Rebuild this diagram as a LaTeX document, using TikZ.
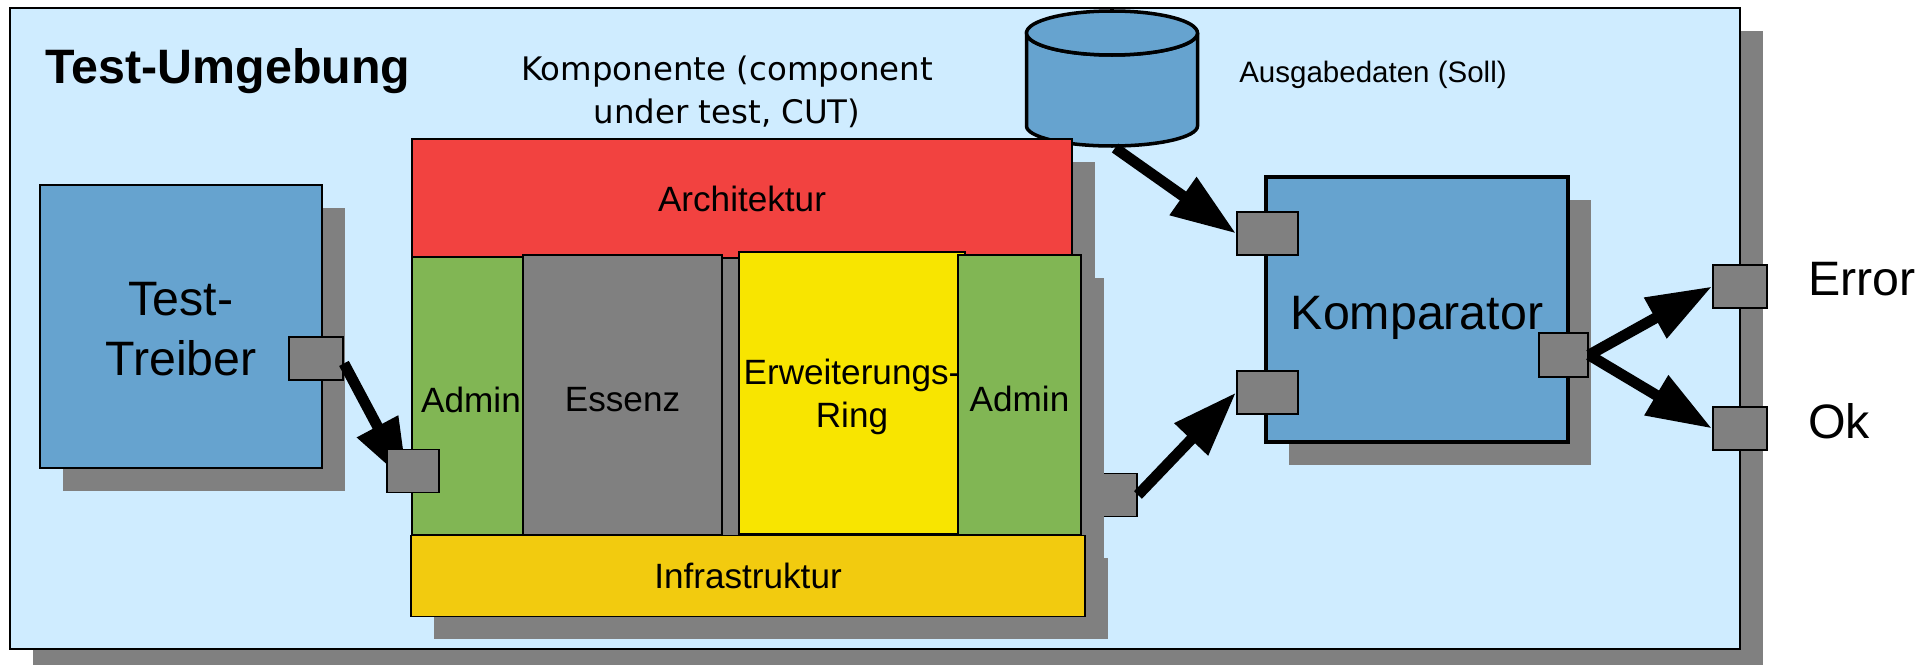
\documentclass[tikz,border=0pt]{standalone}
\usepackage{fontspec}
\setmainfont{Liberation Sans}
\newfontfamily\cutfont{DejaVu Sans}
\usetikzlibrary{arrows.meta,shadows}

\definecolor{envblue}{RGB}{207,236,255}
\definecolor{boxblue}{RGB}{102,163,207}
\definecolor{archred}{RGB}{242,66,64}
\definecolor{admingreen}{RGB}{129,182,84}
\definecolor{ringyellow}{RGB}{248,229,0}
\definecolor{infraorange}{RGB}{242,203,15}
\definecolor{portgray}{RGB}{128,128,128}

\newcommand{\pxu}{0.56906pt}
\newcommand{\lowstrut}{\rule{0pt}{19pt}}

\tikzset{
  layer/.style={draw=black,line width=1.1pt,inner sep=0pt,align=center,font=\fontsize{20}{24}\selectfont},
  boxshadow/.style={drop shadow={shadow xshift=13pt,shadow yshift=-13pt,opacity=1,fill=portgray}},
  port/.style={draw=black,line width=1.1pt,fill=portgray,inner sep=0pt,minimum height=43*\pxu},
  bigtext/.style={font=\fontsize{27.5}{34}\selectfont,align=center},
  flow/.style={line width=6.2pt,-{Triangle[length=37pt,width=25pt]}}
}

\begin{document}
\begin{tikzpicture}[x=0.02cm,y=-0.02cm]

\useasboundingbox (0,0) rectangle (1929,665);

%environment
\node [draw=black,line width=0.9pt,fill=envblue,boxshadow,minimum width=1730*\pxu,minimum height=641*\pxu,inner sep=0pt] (env) at (875,328.5) {};
\node [font=\fontsize{27.5}{33}\selectfont\bfseries] (envtitle) at (228,71) {Test-Umgebung};

%test driver
\node [bigtext,draw=black,line width=1.1pt,fill=boxblue,boxshadow,minimum width=282*\pxu,minimum height=283*\pxu,inner sep=0pt] (driver) at (181,326.5) {\rule{0pt}{22pt}Test-\\Treiber};
\node [port,minimum width=54*\pxu] (drvport) at (316,358.5) {};

%data store
\draw [line width=2pt,fill=boxblue] (1026.5,33) -- (1026.5,126) arc [start angle=180,end angle=0,x radius=85.5,y radius=20] -- (1197.5,33) arc [start angle=0,end angle=180,x radius=85.5,y radius=22] -- cycle;
\draw [line width=2pt,fill=boxblue] (1112,33) ellipse [x radius=85.5,y radius=22];
\coordinate (storebase) at (1115,148);
\node [font=\fontsize{16.8}{20}\selectfont] (storelabel) at (1373,75) {Ausgabedaten (Soll)};

%component
\node [font=\cutfont\fontsize{18.45}{24.5}\selectfont,align=center] (cutlabel) at (727,91.5) {Komponente (component\\under test, CUT)};
\node [port,minimum width=62*\pxu] (cutport) at (1106,495) {};
\node [layer,fill=archred,boxshadow,minimum width=660*\pxu,minimum height=119*\pxu] (arch) at (742,198.5) {Architektur};
\node [fill=portgray,minimum width=40*\pxu,minimum height=277*\pxu,inner sep=0pt] (gap) at (730,397) {};
\node [layer,fill=admingreen,minimum width=111*\pxu,minimum height=278*\pxu] (adminl) at (467.5,396) {\lowstrut\hspace*{4pt}Admin};
\node [layer,fill=portgray,minimum width=199*\pxu,minimum height=280*\pxu] (essenz) at (622.5,395) {\lowstrut Essenz};
\node [layer,fill=ringyellow,minimum width=226*\pxu,minimum height=282*\pxu] (ring) at (852,393) {\lowstrut Erweiterungs-\\Ring};
\node [layer,fill=admingreen,boxshadow,minimum width=123*\pxu,minimum height=280*\pxu] (adminr) at (1019.5,395) {\lowstrut Admin};
\node [layer,fill=infraorange,boxshadow,minimum width=674*\pxu,minimum height=81*\pxu] (infra) at (748,576) {Infrastruktur};

%comparator
\node [bigtext,draw=black,line width=2pt,fill=boxblue,boxshadow,minimum width=302*\pxu,minimum height=265*\pxu,inner sep=0pt] (cmp) at (1417,309.5) {\rule{0pt}{28pt}Komparator};
\node [port,minimum width=61*\pxu] (cmpin1) at (1267.5,233.5) {};
\node [port,minimum width=61*\pxu] (cmpin2) at (1267.5,392.5) {};
\node [port,minimum width=49*\pxu,minimum height=44*\pxu] (cmpout) at (1563.5,355) {};

%outputs
\node [port,minimum width=54*\pxu] (errport) at (1740,286.5) {};
\node [port,minimum width=54*\pxu] (okport) at (1740,428.5) {};
\node [bigtext] (errlabel) at (1862,279) {Error};
\node [bigtext] (oklabel) at (1839,421) {Ok};

%arrows
\draw [flow,shorten >=6pt] (drvport.-10) -- (413,493) coordinate (cutin);
\draw [flow] (storebase) -- (cmpin1.west);
\draw [flow] (cutport.east) -- (cmpin2.west);
\draw [flow] (cmpout.east) -- (errport.west);
\draw [flow] (cmpout.east) -- (okport.west);

\node [port,minimum width=52*\pxu] (adminport) at (413,471) {};

\end{tikzpicture}
\end{document}
